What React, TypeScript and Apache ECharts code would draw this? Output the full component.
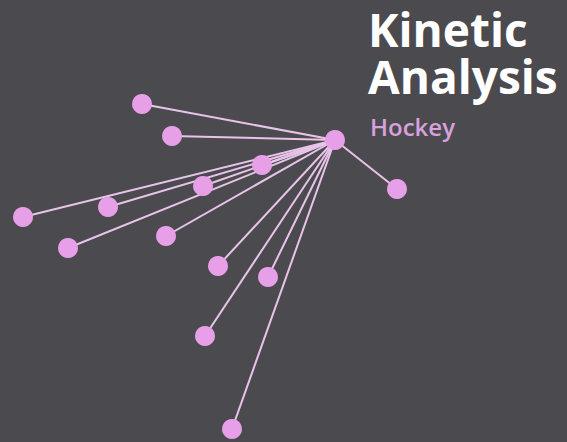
import React, { useEffect, useRef } from "react";
import * as echarts from "echarts";

const nodeNames = ["Center", "A", "B", "C", "D", "E", "F", "G", "H", "I", "J", "K", "L", "M"];
const nodeX = [335, 142, 172, 262, 203, 108, 23, 68, 166, 218, 268, 205, 232, 397];
const nodeY = [140, 104, 136, 165, 186, 207, 217, 248, 236, 266, 277, 336, 429, 189];
const edgeSources = ["Center", "Center", "Center", "Center", "Center", "Center", "Center", "Center", "Center", "Center", "Center", "Center", "Center"];
const edgeTargets = ["A", "B", "C", "D", "E", "F", "G", "H", "I", "J", "K", "L", "M"];

export default function App() {
  const ref = useRef<HTMLDivElement>(null);
  useEffect(() => {
    const chart = echarts.init(ref.current!, null, { renderer: "svg" });
    const big = {
      color: "#ffffff",
      fontSize: 46,
      fontWeight: "bold",
      fontFamily: "Open Sans",
      lineHeight: 44,
    };
    chart.setOption({
      animation: false,
      backgroundColor: "#4b4a4e",
      title: [
        { text: "Kinetic", left: 368, top: 7, padding: 0, textStyle: big },
        { text: "Analysis", left: 368, top: 54, padding: 0, textStyle: big },
        {
          text: "Hockey",
          left: 365,
          top: 109,
          textStyle: {
            color: "#d7a1dc",
            fontSize: 24,
            fontWeight: 600,
            fontFamily: "Open Sans",
          },
        },
      ],
      grid: { left: 0, right: 0, top: 0, bottom: 0 },
      xAxis: { type: "value", min: 0, max: 567, show: false },
      yAxis: { type: "value", min: 0, max: 442, inverse: true, show: false },
      series: [
        {
          type: "graph",
          coordinateSystem: "cartesian2d",
          symbol: "circle",
          symbolSize: 20,
          itemStyle: { color: "#e79fe8" },
          lineStyle: { color: "#e9c4ea", width: 2, opacity: 1 },
          label: { show: false },
          data: nodeNames.map((n, i) => ({ name: n, value: [nodeX[i], nodeY[i]] })),
          links: edgeSources.map((s, i) => ({ source: s, target: edgeTargets[i] })),
        },
      ],
    });
    return () => chart.dispose();
  }, []);
  return <div ref={ref} style={{ width: 567, height: 442, position: "absolute", left: 0, top: 0 }} />;
}
